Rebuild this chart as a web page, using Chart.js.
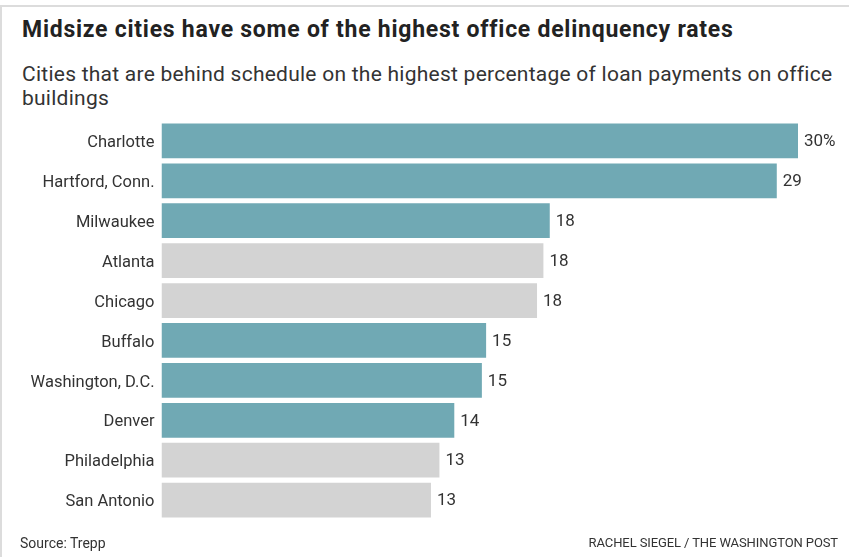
<!DOCTYPE html>
<html>
<head>
<meta charset="utf-8">
<script src="https://cdn.jsdelivr.net/npm/chart.js@4"></script>
<style>
  body { margin: 0; background: #fff; font-family: Roboto, "Noto Sans", sans-serif; color: #222; }
  #frame { position: absolute; left: 0; top: 5px; width: 849px; height: 552px; border-top: 2px solid #dcdcdc; border-left: 2px solid #dcdcdc; box-sizing: border-box; }
  h1 { position: absolute; left: 22px; top: 15px; margin: 0; font-size: 23px; line-height: 30px; letter-spacing: 0.75px; font-weight: 700; white-space: nowrap; color: #222; }
  h2 { position: absolute; left: 22px; top: 62px; margin: 0; width: 820px; font-size: 21px; font-weight: 400; line-height: 24px; letter-spacing: 0.25px; color: #333; }
  .foot { position: absolute; top: 535px; font-size: 14px; color: #333; white-space: nowrap; }
  #src { left: 20px; }
  #credit { right: 11px; font-size: 13px; letter-spacing: -0.1px; }
  #wrap { position: absolute; left: 0; top: 104px; width: 849px; height: 433px; }
</style>
</head>
<body>
<div id="frame"></div>
<h1>Midsize cities have some of the highest office delinquency rates</h1>
<h2>Cities that are behind schedule on the highest percentage of loan payments on office buildings</h2>
<div id="wrap"><canvas id="chart" width="849" height="433"></canvas></div>
<div class="foot" id="src">Source: Trepp</div>
<div class="foot" id="credit">RACHEL SIEGEL / THE WASHINGTON POST</div>
<script>
const cities = ['Charlotte', 'Hartford, Conn.', 'Milwaukee', 'Atlanta', 'Chicago', 'Buffalo',
                'Washington, D.C.', 'Denver', 'Philadelphia', 'San Antonio'];
const rates = [30.0, 29.0, 18.3, 18.0, 17.7, 15.3, 15.1, 13.8, 13.1, 12.7];
const midsize = [true, true, true, false, false, true, true, true, false, false];
const valueLabels = ['30%', '29', '18', '18', '18', '15', '15', '14', '13', '13'];

const teal = '#70a9b4';
const grey = '#d3d3d3';

// draws the number at the end of each bar
const barLabels = {
  id: 'barLabels',
  afterDatasetsDraw(chart) {
    const ctx = chart.ctx;
    const meta = chart.getDatasetMeta(0);
    ctx.save();
    ctx.font = '17px Roboto, sans-serif';
    ctx.fillStyle = '#333';
    ctx.textAlign = 'left';
    ctx.textBaseline = 'middle';
    meta.data.forEach((bar, i) => {
      ctx.fillText(valueLabels[i], bar.x + 6, bar.y + 1);
    });
    ctx.restore();
  }
};

new Chart(document.getElementById('chart'), {
  type: 'bar',
  data: {
    labels: cities,
    datasets: [{
      data: rates,
      backgroundColor: midsize.map(m => m ? teal : grey),
      borderWidth: 0,
      barPercentage: 0.87,
      categoryPercentage: 1.0
    }]
  },
  options: {
    indexAxis: 'y',
    responsive: false,
    animation: false,
    layout: { padding: { left: 0, right: 51, top: 0, bottom: 0 } },
    plugins: {
      legend: { display: false },
      tooltip: { enabled: false }
    },
    scales: {
      x: { display: false, min: 0, max: 30 },
      y: {
        grid: { display: false, drawTicks: false },
        border: { display: false },
        ticks: {
          color: '#333',
          padding: 7,
          labelOffset: 2,
          font: { family: 'Roboto, sans-serif', size: 16.5 }
        },
        afterFit(scale) { scale.width = 161.5; }
      }
    }
  },
  plugins: [barLabels]
});
</script>
</body>
</html>
